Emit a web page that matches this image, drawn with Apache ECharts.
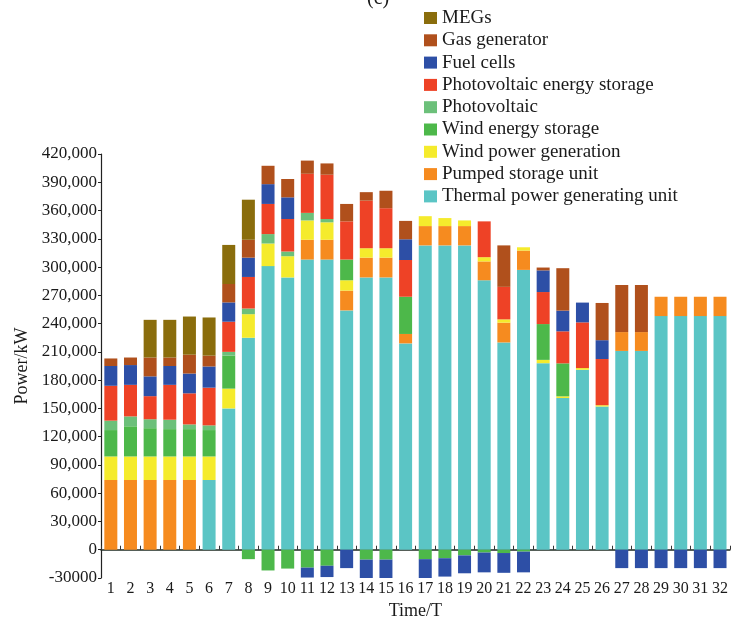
<!DOCTYPE html>
<html>
<head>
<meta charset="utf-8">
<script src="https://cdn.jsdelivr.net/npm/echarts@6/dist/echarts.min.js"></script>
<style>
  html, body { margin: 0; padding: 0; background: #fff; }
  #chart { width: 731px; height: 626px; }
</style>
</head>
<body>
<div id="chart"></div>
<script>
// Time periods 1..32
const periods = Array.from({ length: 32 }, (_, i) => String(i + 1));

// Power output of each source per period (kW)
const thermal = [0, 0, 0, 0, 0, 74000, 150000, 225000, 301000, 289000, 308000, 308000, 254000, 289000, 289000, 219000,
  323000, 323000, 323000, 286000, 220000, 297000, 198000, 161000, 191000, 152000, 211000, 211000, 248000, 248000, 248000, 248000];
const pumped = [74000, 74000, 74000, 74000, 74000, 0, 0, 0, 0, 0, 21000, 21000, 21000, 21000, 21000, 10000,
  20500, 20500, 20500, 20000, 21000, 20500, 0, 0, 0, 0, 20000, 20000, 20500, 20500, 20500, 20500];
const windPower = [25000, 25000, 25000, 25000, 25000, 25000, 21000, 25000, 24000, 22500, 20500, 18500, 11000, 10000, 10000, 0,
  10500, 8500, 6000, 4500, 3500, 3500, 3500, 1800, 1800, 1400, 0, 0, 0, 0, 0, 0];
const windStorage = [28000, 32000, 30000, 29000, 29000, 28000, 35000, -10000, -22000, -20000, -19000, -17000, 22000, -10500, -10500, 39500,
  -10000, -9000, -6000, -3000, -3500, -2000, 38000, 35000, 0, 0, 0, 0, 0, 0, 0, 0];
const photovoltaic = [10000, 10500, 9500, 10000, 5000, 5000, 4000, 6000, 10000, 5000, 8000, 3500, 0, 0, 0, 0,
  0, 0, 0, 0, 0, 0, 0, 0, 0, 0, 0, 0, 0, 0, 0, 0];
const pvStorage = [37000, 33500, 24500, 37000, 33000, 40000, 32000, 33500, 32000, 34500, 41500, 47000, 40500, 50500, 42500, 39000,
  0, 0, 0, 38000, 34500, 0, 34000, 34000, 48500, 49000, 0, 0, 0, 0, 0, 0];
const fuelCells = [21000, 21000, 21000, 20000, 21000, 22500, 20500, 20500, 21000, 23000, -10500, -12000, -19500, -19500, -19500, 22000,
  -20000, -19500, -19000, -21000, -21000, -22000, 23000, 22000, 21000, 20000, -19500, -19500, -19500, -19500, -19500, -19500];
const gasGen = [8000, 8000, 20000, 9000, 20000, 11500, 19500, 19000, 19500, 19500, 14000, 12000, 18500, 9000, 18500, 19500,
  0, 0, 0, 0, 44000, 0, 3000, 45000, 0, 39500, 50000, 50000, 0, 0, 0, 0];
const megs = [0, 0, 40000, 40000, 40500, 40500, 41500, 42500, 0, 0, 0, 0, 0, 0, 0, 0,
  0, 0, 0, 0, 0, 0, 0, 0, 0, 0, 0, 0, 0, 0, 0, 0];

// Stacking order, bottom to top
const seriesDefs = [
  { name: 'Thermal power generating unit', data: thermal, color: '#5bc5c5' },
  { name: 'Pumped storage unit', data: pumped, color: '#f68b1f' },
  { name: 'Wind power generation', data: windPower, color: '#f5eb2c' },
  { name: 'Wind energy storage', data: windStorage, color: '#4db84a' },
  { name: 'Photovoltaic', data: photovoltaic, color: '#6cc07a' },
  { name: 'Photovoltaic energy storage', data: pvStorage, color: '#ee4226' },
  { name: 'Fuel cells', data: fuelCells, color: '#2d4fa6' },
  { name: 'Gas generator', data: gasGen, color: '#b0501c' },
  { name: 'MEGs', data: megs, color: '#8a6d0c' }
];

const serif = "'Liberation Serif', 'Times New Roman', serif";
const chart = echarts.init(document.getElementById('chart'), null, { renderer: 'canvas' });

chart.setOption({
  animation: false,
  backgroundColor: '#ffffff',
  title: {
    text: '(c)',
    left: 362,
    top: -16,
    textStyle: { fontFamily: serif, fontSize: 20, fontWeight: 'normal', color: '#1a1a1a' }
  },
  legend: {
    orient: 'vertical',
    left: 424,
    top: 8,
    padding: 0,
    itemWidth: 13,
    itemHeight: 12,
    itemGap: 2.3,
    icon: 'rect',
    data: seriesDefs.map(s => s.name).reverse(),
    textStyle: { fontFamily: serif, fontSize: 19, color: '#1a1a1a', lineHeight: 20 }
  },
  grid: { left: 101, right: 0, top: 154, bottom: 48, containLabel: false },
  xAxis: [
    {
      // zero line with boundary ticks
      type: 'category',
      data: periods,
      position: 'top',
      axisLine: { show: true, onZero: true, lineStyle: { color: '#1e2a22', width: 1.5 } },
      axisTick: { show: true, inside: false, length: 4, interval: 0, lineStyle: { color: '#333' } },
      axisLabel: { show: false },
      splitLine: { show: false }
    },
    {
      type: 'category',
      data: periods,
      position: 'bottom',
      axisLine: { show: false, onZero: false },
      axisTick: { show: false },
      axisLabel: { interval: 0, margin: 3, fontFamily: serif, fontSize: 16, color: '#1a1a1a' },
      name: 'Time/T',
      nameLocation: 'middle',
      nameGap: 20,
      nameTextStyle: { fontFamily: serif, fontSize: 18, color: '#1a1a1a' }
    }
  ],
  yAxis: {
    type: 'value',
    min: -30000,
    max: 420000,
    interval: 30000,
    axisLine: { show: true, lineStyle: { color: '#222', width: 1.2 } },
    axisTick: { show: true, inside: false, length: 3, lineStyle: { color: '#222' } },
    splitLine: { show: false },
    axisLabel: {
      margin: 4,
      fontFamily: serif,
      fontSize: 17,
      color: '#1a1a1a',
      formatter: v => (v < 0 ? String(v) : v.toLocaleString('en-US'))
    },
    name: 'Power/kW',
    nameLocation: 'middle',
    nameGap: 67,
    nameTextStyle: { fontFamily: serif, fontSize: 18, color: '#1a1a1a' }
  },
  series: seriesDefs.map(s => ({
    name: s.name,
    type: 'bar',
    stack: 'power',
    xAxisIndex: 0,
    barWidth: 13,
    data: s.data,
    itemStyle: { color: s.color }
  }))
});
</script>
</body>
</html>
